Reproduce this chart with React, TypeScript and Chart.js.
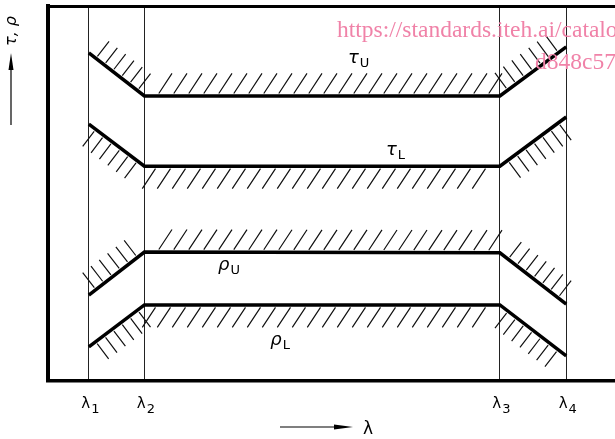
import React, { useEffect, useRef } from "react";
import { Chart, registerables } from "chart.js";

Chart.register(...registerables);

// Wavelength marks (relative position along the λ axis, 0..100)
const LAMBDA_X = [7.2, 17.0, 79.7, 91.4];
const LAMBDA_SYMBOL = "λ";
const LAMBDA_SUBS = ["1", "2", "3", "4"];

// Tolerance band limits (relative units 0..100) at λ1, λ2, λ3, λ4
const TAU_U = [87.5, 76.0, 76.0, 89.1];
const TAU_L = [68.5, 57.3, 57.3, 70.4];
const RHO_U = [22.9, 34.4, 34.2, 20.5];
const RHO_L = [9.1, 20.3, 20.3, 6.7];

const SERIES = [TAU_U, TAU_L, RHO_U, RHO_L];
const SERIES_SYMBOL = ["τ", "τ", "ρ", "ρ"];
const SERIES_SUB = ["U", "L", "U", "L"];
const HATCH_SIDE = [1, -1, 1, -1]; // 1 = hatched above, -1 = hatched below
const LABEL_X = [52.9, 59.6, 30.0, 39.2];
const LABEL_Y = [84.8, 60.3, 29.6, 9.6];

const Y_TITLE = "τ, ρ";
const X_TITLE = "λ";
const WATERMARK = ["https://standards.iteh.ai/catalo", "d848c57"];

const decor = {
  id: "decor",
  afterDatasetsDraw(chart: any) {
    const ctx: CanvasRenderingContext2D = chart.ctx;
    const xs = chart.scales.x;
    const ys = chart.scales.y;
    ctx.save();
    // hatching
    ctx.strokeStyle = "#111";
    ctx.lineWidth = 1.2;
    ctx.lineCap = "butt";
    chart.data.datasets.forEach((_ds: any, di: number) => {
      const meta = chart.getDatasetMeta(di);
      const pts = meta.data.map((p: any) => ({ x: p.x, y: p.y }));
      const side = HATCH_SIDE[di];
      for (let i = 0; i < pts.length - 1; i++) {
        const a = pts[i];
        const b = pts[i + 1];
        const dx = b.x - a.x;
        const dy = b.y - a.y;
        const L = Math.hypot(dx, dy);
        const tx = dx / L;
        const ty = dy / L;
        let nx = ty;
        let ny = -tx;
        if ((ny < 0) !== (side > 0)) {
          nx = -nx;
          ny = -ny;
        }
        let hx: number, hy: number, len: number, gap: number, step: number;
        if (Math.abs(dy) < 2) {
          hx = 0.55 * side;
          hy = -0.835 * side;
          len = 24;
          gap = 3;
          step = 15;
        } else {
          hx = nx;
          hy = ny;
          len = 19;
          gap = 2.5;
          step = 10.5;
        }
        const n = Math.floor(L / step);
        const start = (L - (n - 1) * step) / 2;
        ctx.beginPath();
        for (let k = 0; k < n; k++) {
          const s = start + k * step;
          const px = a.x + tx * s;
          const py = a.y + ty * s;
          ctx.moveTo(px + hx * gap, py + hy * gap);
          ctx.lineTo(px + hx * (gap + len), py + hy * (gap + len));
        }
        ctx.stroke();
      }
    });

    ctx.fillStyle = "#000";
    ctx.textAlign = "left";
    ctx.textBaseline = "alphabetic";

    // λ tick labels at the axis ticks
    xs.ticks.forEach((t: any) => {
      const i = LAMBDA_X.indexOf(t.value);
      if (i < 0) return;
      const px = xs.getPixelForValue(t.value);
      ctx.font = '15px "DejaVu Sans"';
      const w1 = ctx.measureText(LAMBDA_SYMBOL).width;
      ctx.font = '13px "DejaVu Sans"';
      const w2 = ctx.measureText(LAMBDA_SUBS[i]).width;
      const left = px + 1.5 - (w1 + 1 + w2) / 2;
      ctx.font = '15px "DejaVu Sans"';
      ctx.fillText(LAMBDA_SYMBOL, left, 408);
      ctx.font = '13px "DejaVu Sans"';
      ctx.fillText(LAMBDA_SUBS[i], left + w1 + 1, 413);
    });

    // curve labels
    SERIES_SYMBOL.forEach((sym, i) => {
      const px = xs.getPixelForValue(LABEL_X[i]);
      const py = ys.getPixelForValue(LABEL_Y[i]);
      ctx.font = 'italic 18px "DejaVu Sans"';
      ctx.fillText(sym, px, py);
      const w = ctx.measureText(sym).width;
      ctx.font = '13px "DejaVu Sans"';
      ctx.fillText(SERIES_SUB[i], px + w + 1, py + 4);
    });

    // y title (rotated) with arrow
    ctx.save();
    ctx.translate(16, 31);
    ctx.rotate(-Math.PI / 2);
    ctx.font = 'italic 16px "DejaVu Sans"';
    ctx.textAlign = "center";
    ctx.fillText(Y_TITLE, 0, 0);
    ctx.restore();
    ctx.strokeStyle = "#000";
    ctx.lineWidth = 1.2;
    ctx.beginPath();
    ctx.moveTo(11, 125);
    ctx.lineTo(11, 65);
    ctx.stroke();
    ctx.beginPath();
    ctx.moveTo(11, 53);
    ctx.lineTo(13.5, 70);
    ctx.lineTo(8.5, 70);
    ctx.closePath();
    ctx.fill();

    // x title with arrow
    ctx.beginPath();
    ctx.moveTo(280, 427);
    ctx.lineTo(340, 427);
    ctx.stroke();
    ctx.beginPath();
    ctx.moveTo(353, 427);
    ctx.lineTo(334, 424.5);
    ctx.lineTo(334, 429.5);
    ctx.closePath();
    ctx.fill();
    ctx.font = '17px "DejaVu Sans"';
    ctx.textAlign = "left";
    ctx.fillText(X_TITLE, 363, 434);

    // watermark
    ctx.fillStyle = "rgb(240,130,168)";
    ctx.font = '23.5px "Liberation Serif"';
    ctx.fillText(WATERMARK[0], 337, 37);
    ctx.fillText(WATERMARK[1], 535, 69);
    ctx.restore();
  },
};

export default function App() {
  const ref = useRef<HTMLCanvasElement>(null);
  useEffect(() => {
    const chart = new Chart(ref.current as HTMLCanvasElement, {
      type: "line",
      data: {
        datasets: SERIES.map((vals, si) => ({
          label: SERIES_SYMBOL[si] + SERIES_SUB[si],
          data: LAMBDA_X.map((x, i) => ({ x, y: vals[i] })),
          borderColor: "#000",
          borderWidth: 3.5,
          pointRadius: 0,
          tension: 0,
          fill: false,
        })),
      },
      options: {
        animation: false,
        responsive: false,
        layout: { padding: 0 },
        plugins: { legend: { display: false }, tooltip: { enabled: false } },
        scales: {
          x: {
            type: "linear",
            position: "bottom",
            min: 0,
            max: 100,
            afterBuildTicks: (s: any) => {
              s.ticks = LAMBDA_X.map((v) => ({ value: v }));
            },
            afterFit: (s: any) => {
              s.height = 58;
            },
            ticks: { display: false, autoSkip: false },
            grid: { display: true, drawTicks: false, color: "#222", lineWidth: 1 },
            border: { display: true, color: "#000", width: 3.5 },
          },
          x2: {
            type: "linear",
            position: "top",
            min: 0,
            max: 100,
            afterFit: (s: any) => {
              s.height = 6;
            },
            ticks: { display: false },
            grid: { display: false, drawTicks: false },
            border: { display: true, color: "#000", width: 3 },
          },
          y: {
            type: "linear",
            min: 0,
            max: 100,
            afterFit: (s: any) => {
              s.width = 48;
            },
            ticks: { display: false },
            grid: { display: false, drawTicks: false },
            border: { display: true, color: "#000", width: 4 },
          },
        },
      } as any,
      plugins: [decor],
    });
    return () => chart.destroy();
  }, []);
  return (
    <div style={{ position: "fixed", left: 0, top: 0, width: 615, height: 439, background: "#fff" }}>
      <canvas ref={ref} width={615} height={439} style={{ display: "block" }} />
    </div>
  );
}
